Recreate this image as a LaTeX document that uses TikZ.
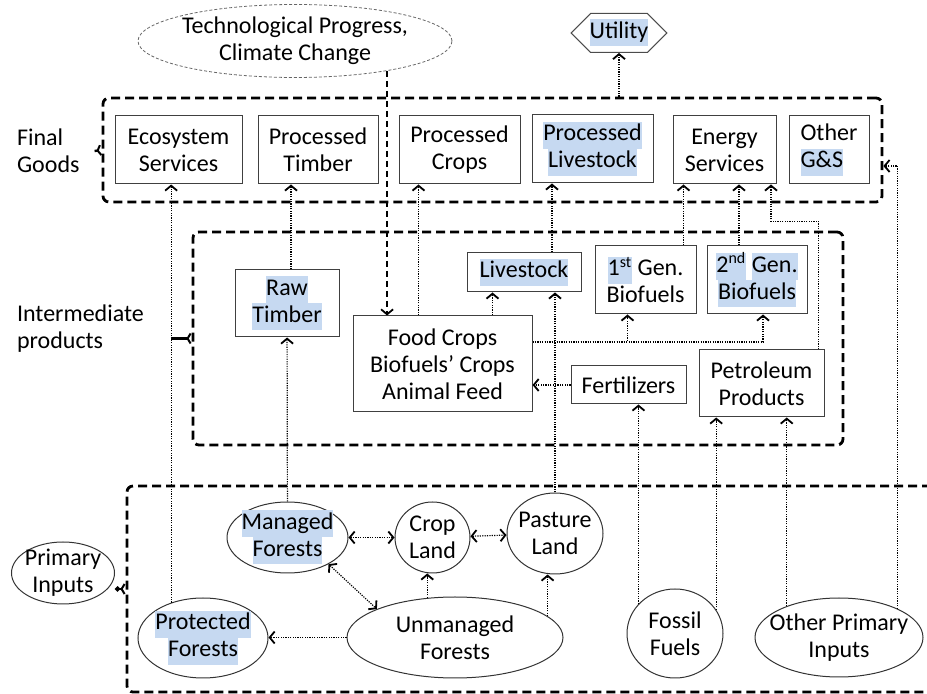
\documentclass[tikz,border=0pt]{standalone}
\usepackage{fontspec}
\setmainfont{Carlito}
\usetikzlibrary{arrows.meta, shapes.geometric, shapes.misc, calc}
\definecolor{hlblue}{HTML}{C6D9F1}
\newcommand{\boxfont}{\fontsize{12}{13.5}\selectfont}
\newcommand{\hlb}[1]{{\setlength{\fboxsep}{0pt}\colorbox{hlblue}{\strut #1}}}
\tikzset{
    groupbox/.style={rectangle, rounded corners=3pt, draw=black, line width=1.4pt, dash pattern=on 4.5pt off 2.5pt},
    good/.style={rectangle, draw=black!75, line width=0.5pt, align=center, minimum height=34pt, inner sep=1pt, font=\boxfont},
    oval/.style={ellipse, draw=black!80, line width=0.5pt, align=center, inner sep=-3pt, font=\boxfont},
    techoval/.style={draw=black!60, line width=0.4pt, dash pattern=on 1.5pt off 1pt},
    utilbox/.style={chamfered rectangle, chamfered rectangle xsep=4.5pt, chamfered rectangle ysep=5.5pt, draw=black!70, line width=0.5pt, inner xsep=5pt, inner ysep=-2.5pt, font=\boxfont},
    lbl/.style={align=left, font=\boxfont},
    flow/.style={line width=0.6pt, dash pattern=on 0.6pt off 0.6pt, -{Straight Barb[length=2.5pt, width=6pt, line width=0.9pt]}},
    twoway/.style={flow, {Straight Barb[length=2.5pt, width=6pt, line width=0.9pt]}-{Straight Barb[length=2.5pt, width=6pt, line width=0.9pt]}},
    cause/.style={line width=0.6pt, dash pattern=on 3pt off 2pt, -{Straight Barb[length=2.5pt, width=6pt, line width=0.9pt]}},
    tagline/.style={line width=1.2pt, -{Straight Barb[reversed, length=1.5pt, width=5pt, line width=1pt]}}
}

\begin{document}
\begin{tikzpicture}[x=0.5pt, y=-0.5pt]
    \useasboundingbox (0,0) rectangle (927,694);
    \clip (0,0) rectangle (927,694);

    % Group boxes
    \node (final) [groupbox, minimum width=389.5pt, minimum height=52pt] at (492.5,150) {};
    \node (inter) [groupbox, minimum width=325pt, minimum height=106.5pt] at (518,338.5) {};
    \node (primary) [groupbox, minimum width=440pt, minimum height=103pt] at (567,589) {};

    % Labels
    \node (fglabel) [lbl, anchor=west] at (10,151) {Final\\Goods};
    \node (iplabel) [lbl, anchor=west] at (10,329) {Intermediate\\products};
    \node (pinput) [oval, minimum width=51.5pt, minimum height=31pt] at (63,573) {Primary\\Inputs};

    % Top nodes
    \node (tech) [oval, techoval, minimum width=157pt, minimum height=36.5pt] at (295,41) {Technological Progress,\\Climate Change};
    \node (utility) [utilbox] at (619,33) {\hlb{Utility}};

    % Final goods
    \node (ecosys) [good, minimum width=63.5pt] at (178.5,150) {Ecosystem\\Services};
    \node (proctim) [good, minimum width=60pt] at (318,150) {Processed\\Timber};
    \node (proccrop) [good, minimum width=60.5pt] at (459.5,150) {Processed\\Crops};
    \node (proclive) [good, minimum width=60.5pt] at (592.5,149) {\hlb{Processed}\\\hlb{Livestock}};
    \node (energy) [good, minimum width=51.5pt] at (724.5,150) {Energy\\Services};
    \node (otherg) [good, align=left, minimum width=40pt] at (829,150) {Other\\\hlb{G\&S}};

    % Intermediate products
    \node (rawt) [good, minimum width=52pt, minimum height=33.5pt] at (287,303.5) {\hlb{Raw}\\\hlb{Timber}};
    \node (foodc) [good, minimum width=89.5pt, minimum height=48pt] at (442.5,364) {Food Crops\\Biofuels’ Crops\\Animal Feed};
    \node (livestock) [good, minimum width=57pt, minimum height=19.5pt] at (524,272.5) {\hlb{Livestock}};
    \node (gen1) [good, minimum width=50.5pt] at (645.5,280) {\hlb{1\textsuperscript{st}} Gen.\\Biofuels};
    \node (gen2) [good, minimum width=50pt] at (757,280) {\hlb{2\textsuperscript{nd}} \hlb{Gen.}\\\hlb{Biofuels}};
    \node (fert) [good, minimum width=57.5pt, minimum height=19pt] at (628.5,385) {Fertilizers};
    \node (petro) [good, minimum width=62.5pt, minimum height=33.5pt] at (761.5,383.5) {Petroleum\\Products};

    % Primary inputs
    \node (manf) [oval, minimum width=60.5pt, minimum height=35.5pt] at (287.5,537.5) {\hlb{Managed}\\\hlb{Forests}};
    \node (cropl) [oval, minimum width=37.5pt, minimum height=35.5pt] at (432.5,537.5) {Crop\\Land};
    \node (pasture) [oval, minimum width=48pt, minimum height=40.5pt] at (555,533.5) {Pasture\\Land};
    \node (unmanf) [oval, minimum width=108pt, minimum height=40.5pt] at (455,637.5) {Unmanaged\\Forests};
    \node (protf) [oval, minimum width=65pt, minimum height=40pt] at (203,638) {\hlb{Protected}\\\hlb{Forests}};
    \node (fossil) [oval, minimum width=48pt, minimum height=44.5pt] at (675,633.5) {Fossil\\Fuels};
    \node (opi) [oval, inner xsep=-5pt, minimum width=84pt, minimum height=39.5pt] at (839,637.5) {Other Primary\\Inputs};

    % Label ties
    \draw [tagline] (fglabel.east) ++(4pt,0) -- (final.west);
    \draw [tagline] ([xshift=10pt]iplabel.east |- inter.west) -- (inter.west);
    \draw [tagline, {Circle[length=2.5pt]}-{Straight Barb[reversed, length=1.5pt, width=5pt, line width=1pt]}] (pinput.east |- primary.west) -- (primary.west);

    % Arrows
    \draw [cause] (tech.342) -- (tech.342 |- foodc.north);
    \draw [flow] (utility.south |- final.north) -- (utility.south);
    \draw [flow] (protf.132) -- (protf.132 |- ecosys.south);
    \draw [flow] (manf) -- (rawt);
    \draw [flow] ([xshift=2pt]rawt.north) -- ([xshift=2pt]rawt.north |- proctim.south);
    \draw [flow] ([xshift=-12pt]foodc.north) -- ([xshift=-12pt]foodc.north |- proccrop.south);
    \draw [flow] ([xshift=25pt]foodc.north) -- ([xshift=25pt]foodc.north |- livestock.south);
    \draw [flow] (pasture.north) -- (pasture.north |- livestock.south);
    \draw [flow] ([xshift=14pt]livestock.north) -- ([xshift=14pt]livestock.north |- proclive.south);
    \draw [flow] ([yshift=11pt]foodc.east) -| ([xshift=-9pt]gen1.south);
    \draw [flow] ([yshift=11pt]foodc.east) -| ([xshift=3pt]gen2.south);
    \draw [flow] (fert.west) -- (fert.west -| foodc.east);
    \draw [flow] ([xshift=19pt]gen1.north) -- ([xshift=19pt]gen1.north |- energy.south);
    \draw [flow] ([xshift=-9pt]gen2.north) -- ([xshift=-9pt]gen2.north |- energy.south);
    \draw [flow] ([xshift=28.5pt]petro.north) -- ++(0,-128) -| ([xshift=23.25pt]energy.south);
    \draw [flow] (fossil.141) -- (fossil.141 |- fert.south);
    \draw [flow] (fossil.30) -- (fossil.30 |- petro.south);
    \draw [flow] (opi.149) -- (opi.149 |- petro.south);
    \draw [flow] (opi.26) |- ([yshift=-8pt]final.east);
    \draw [twoway] (manf.east) -- (cropl.west);
    \draw [twoway] (cropl) -- (pasture);
    \draw [twoway] (manf.-33) -- (unmanf.160);
    \draw [flow] (unmanf.125) -- (unmanf.125 |- cropl.south);
    \draw [flow] (unmanf.13) -- (unmanf.13 |- pasture.south);
    \draw [flow] (unmanf.west) -- (unmanf.west -| protf.east);

\end{tikzpicture}
\end{document}
